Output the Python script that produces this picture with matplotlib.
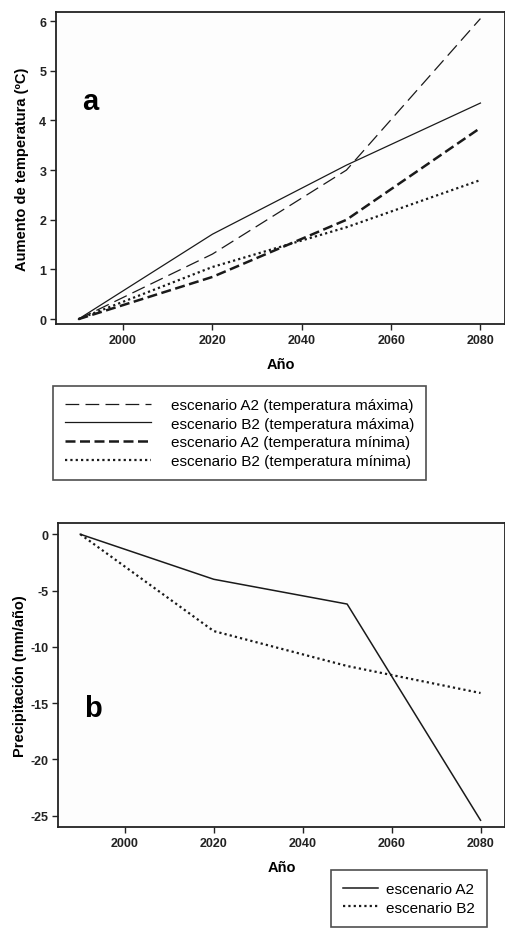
import matplotlib.pyplot as plt
from matplotlib.lines import Line2D

plt.rcParams['font.family'] = ['Liberation Sans', 'DejaVu Sans']
plt.rcParams['axes.unicode_minus'] = False

years = [1990, 2020, 2050, 2080]

# panel a: temperature increase (ºC)
a2_max = [0.0, 1.31, 3.0, 6.05]
b2_max = [0.0, 1.71, 3.1, 4.35]
a2_min = [0.0, 0.85, 2.0, 3.85]
b2_min = [0.0, 1.05, 1.85, 2.8]
labels_a = ["escenario A2 (temperatura máxima)",
            "escenario B2 (temperatura máxima)",
            "escenario A2 (temperatura mínima)",
            "escenario B2 (temperatura mínima)"]

# panel b: precipitation (mm/año)
prec_a2 = [0.0, -4.0, -6.2, -25.4]
prec_b2 = [0.0, -8.6, -11.7, -14.1]
labels_b = ["escenario A2", "escenario B2"]

xticks = [2000, 2020, 2040, 2060, 2080]

fig = plt.figure(figsize=(5.05, 9.37), dpi=100)
ink = '#1a1a1a'

styles = [
    dict(color=ink, lw=0.9, dashes=(11, 5)),
    dict(color=ink, lw=0.9, ls='-'),
    dict(color=ink, lw=1.8, dashes=(4, 1.8)),
    dict(color=ink, lw=1.6, dashes=(1, 1.4)),
]


def style_axes(ax):
    for s in ax.spines.values():
        s.set_linewidth(1.3)
        s.set_color('#222222')
    ax.tick_params(direction='out', length=4, width=1.0, colors='#222222',
                   labelsize=9, pad=3)
    for t in ax.get_xticklabels() + ax.get_yticklabels():
        t.set_fontweight('bold')
    ax.set_xticks(xticks)
    ax.set_xlim(1985, 2085.5)
    ax.set_facecolor('#fdfdfd')


# ---- panel a
ax1 = fig.add_axes([0.111, 0.653, 0.889, 0.333])
series_a = [a2_max, b2_max, a2_min, b2_min]
for ys, st in zip(series_a, styles):
    ax1.plot(years, ys, **st)
ax1.set_ylim(-0.1, 6.18)
ax1.set_yticks(range(0, 7))
style_axes(ax1)
ax1.set_xlabel("Año", fontsize=10.5, fontweight='bold', labelpad=8)
ax1.set_ylabel("Aumento de temperatura (ºC)", fontsize=10.5, fontweight='bold', labelpad=7)
ax1.text(0.058, 0.715, "a", transform=ax1.transAxes, fontsize=21, fontweight='bold',
         va='center', ha='left')

handles_a = [Line2D([], [], **st) for st in styles]
leg_a = fig.legend(handles_a, labels_a, loc='upper left',
                   bbox_to_anchor=(0.105, 0.587), borderaxespad=0, fontsize=11,
                   handlelength=5.6, handletextpad=1.3, labelspacing=0.3,
                   borderpad=0.8, fancybox=False, edgecolor='#222222')
leg_a.get_frame().set_linewidth(1.2)

# ---- panel b
ax2 = fig.add_axes([0.115, 0.1163, 0.885, 0.3245])
ax2.plot(years, prec_a2, color=ink, lw=1.1, ls='-')
ax2.plot(years, prec_b2, color=ink, lw=1.6, dashes=(1, 1.4))
ax2.set_ylim(-26.0, 1.0)
ax2.set_yticks([0, -5, -10, -15, -20, -25])
style_axes(ax2)
ax2.set_xlabel("Año", fontsize=10.5, fontweight='bold', labelpad=8)
ax2.set_ylabel("Precipitación (mm/año)", fontsize=10.5, fontweight='bold', labelpad=2)
ax2.text(0.058, 0.39, "b", transform=ax2.transAxes, fontsize=21, fontweight='bold',
         va='center', ha='left')

handles_b = [Line2D([], [], color=ink, lw=1.1, ls='-'),
             Line2D([], [], color=ink, lw=1.6, dashes=(1, 1.4))]
leg_b = fig.legend(handles_b, labels_b, loc='upper left',
                   bbox_to_anchor=(0.655, 0.0704), borderaxespad=0, fontsize=11,
                   handlelength=2.3, handletextpad=0.5, labelspacing=0.3,
                   borderpad=0.8, fancybox=False, edgecolor='#222222')
leg_b.get_frame().set_linewidth(1.2)

fig.savefig('out.png', dpi=100)
